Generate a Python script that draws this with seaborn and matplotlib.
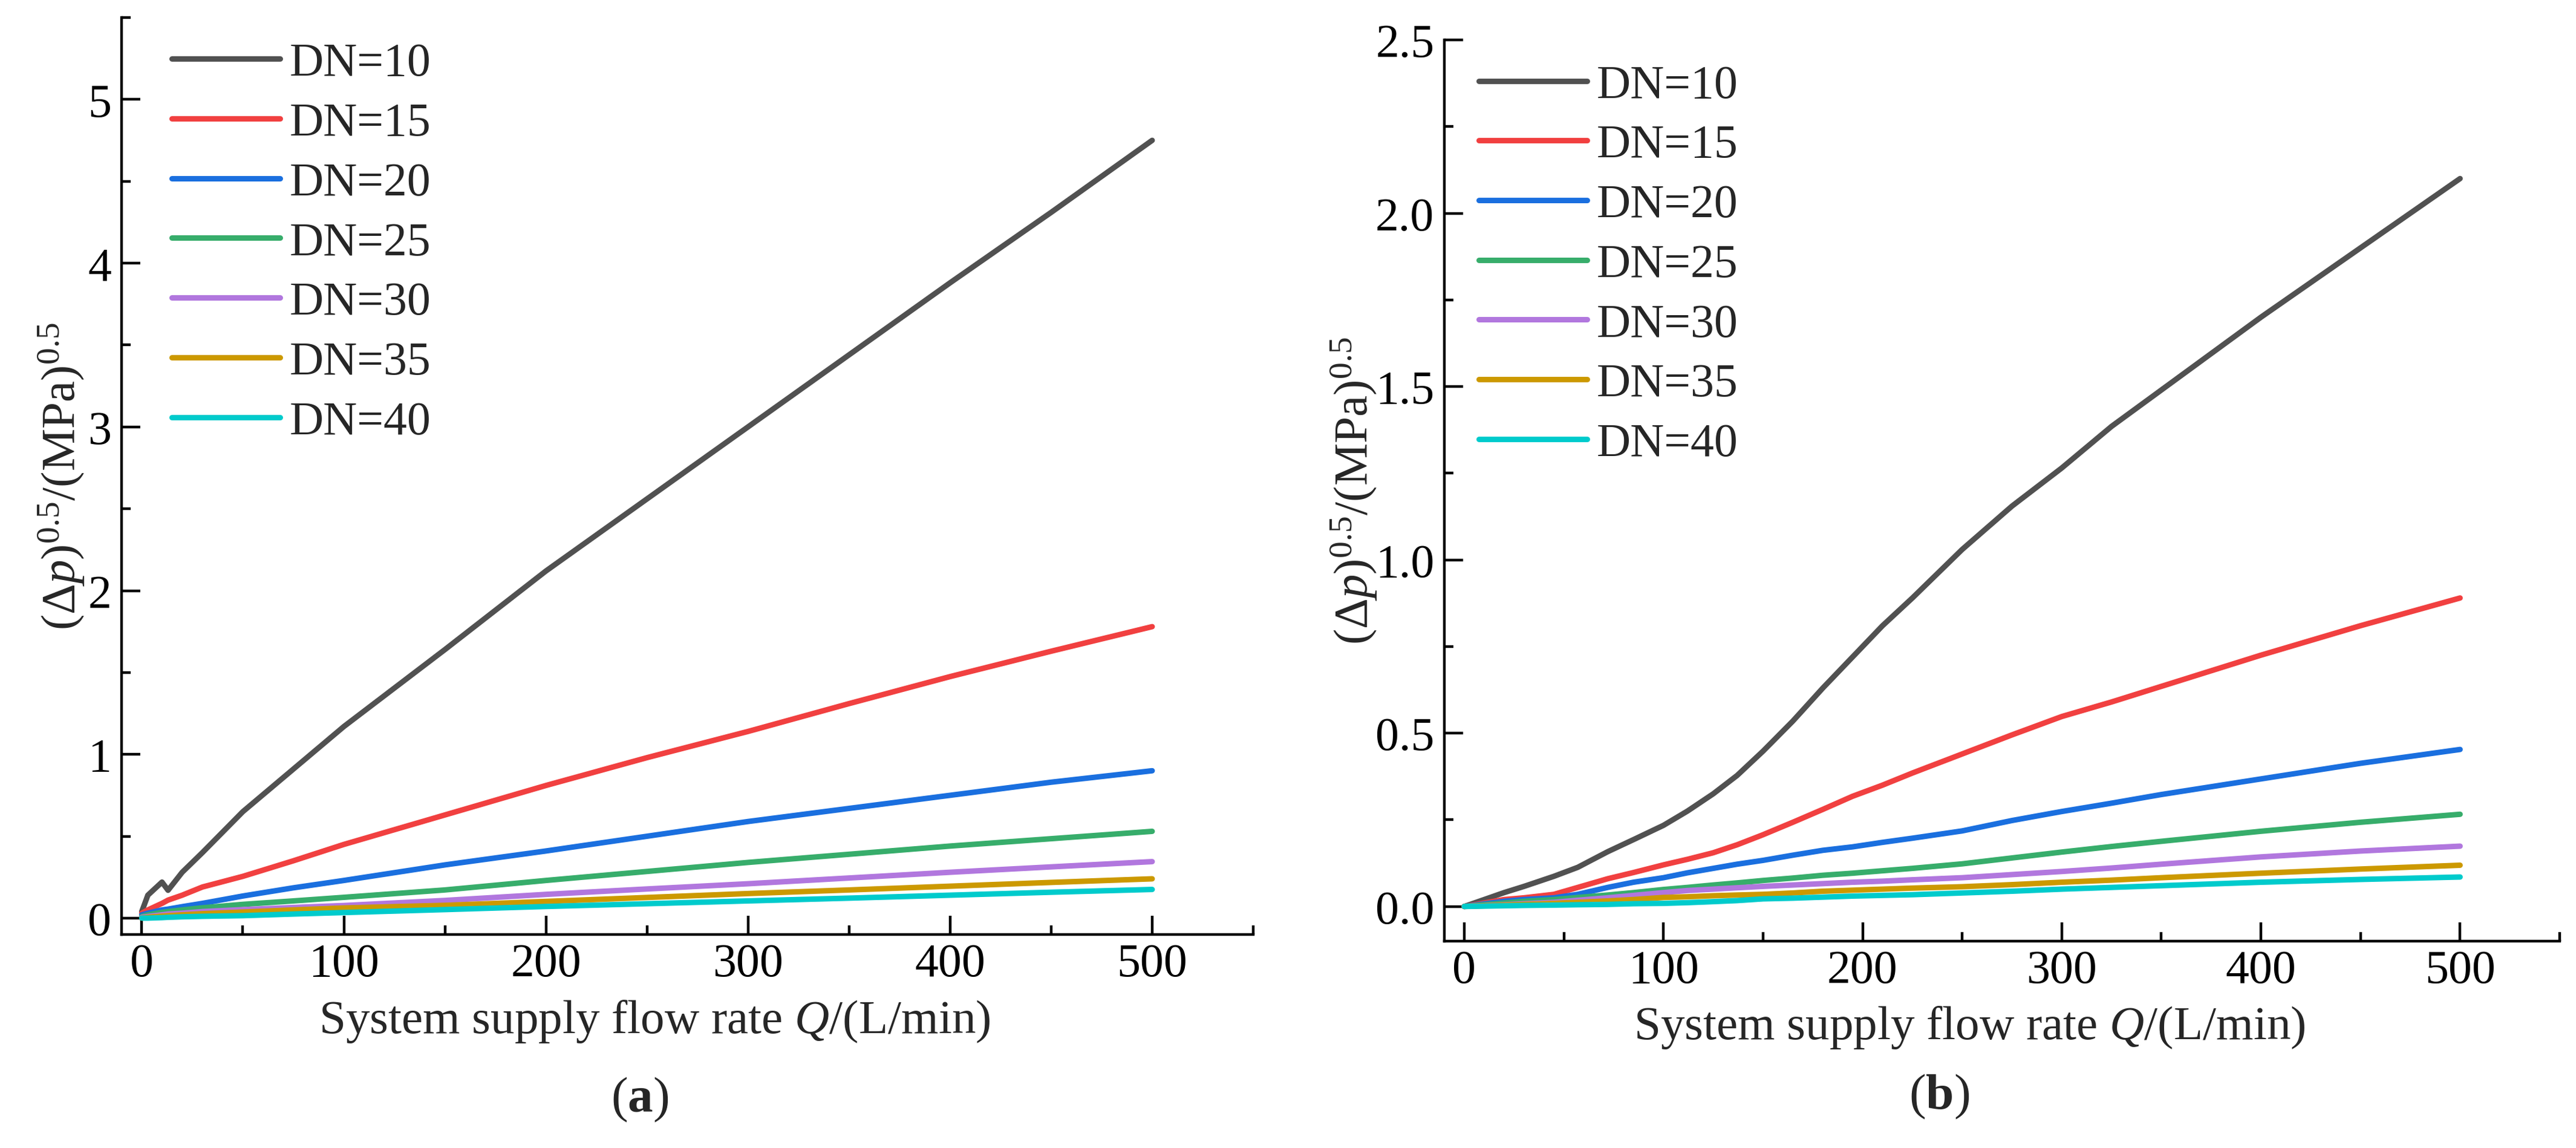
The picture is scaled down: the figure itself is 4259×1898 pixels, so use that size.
import numpy as np
import pandas as pd
import matplotlib
matplotlib.use("Agg")
import matplotlib.pyplot as plt
from matplotlib.ticker import MultipleLocator, FormatStrFormatter
import seaborn as sns

# ---------------- data ----------------
series_names = ["DN=10", "DN=15", "DN=20", "DN=25", "DN=30", "DN=35", "DN=40"]
colors = ["#515151", "#F14040", "#1A6FDF", "#37AD6B", "#B177DE", "#CC9900", "#00CBCC"]

# panel (a)
q_a = [0, 3, 10, 13, 20, 30, 50, 75, 100, 150, 200, 250, 300, 350, 400, 450, 500]
a_dn10 = [0.04, 0.14, 0.22, 0.17, 0.28, 0.40, 0.65, 0.91, 1.17, 1.64, 2.12, 2.56, 3.00, 3.44, 3.88, 4.31, 4.75]
a_dn15 = [0.03, 0.05, 0.09, 0.11, 0.14, 0.19, 0.255, 0.35, 0.45, 0.63, 0.81, 0.98, 1.14, 1.31, 1.475, 1.63, 1.78]
a_dn20 = [0.02, 0.03, 0.05, 0.055, 0.07, 0.09, 0.135, 0.185, 0.23, 0.325, 0.41, 0.50, 0.59, 0.67, 0.75, 0.83, 0.90]
a_dn25 = [0.01, 0.02, 0.035, 0.04, 0.05, 0.063, 0.084, 0.105, 0.127, 0.172, 0.23, 0.285, 0.34, 0.39, 0.44, 0.485, 0.53]
a_dn30 = [0.005, 0.01, 0.02, 0.025, 0.03, 0.04, 0.052, 0.065, 0.077, 0.108, 0.145, 0.178, 0.21, 0.245, 0.28, 0.313, 0.345]
a_dn35 = [0.0, 0.005, 0.012, 0.015, 0.02, 0.027, 0.037, 0.05, 0.062, 0.078, 0.102, 0.126, 0.15, 0.172, 0.195, 0.218, 0.24]
a_dn40 = [0.0, 0.0, 0.003, 0.005, 0.008, 0.011, 0.015, 0.025, 0.034, 0.052, 0.071, 0.088, 0.105, 0.122, 0.14, 0.158, 0.175]

# panel (b)
q_b = [0, 20, 30, 45, 57, 72, 85, 100, 112, 125, 137, 150, 165, 180, 195, 210, 225, 250, 275, 300, 325, 350, 400, 450, 500]
b_dn10 = [0, 0.04, 0.058, 0.087, 0.113, 0.158, 0.193, 0.234, 0.275, 0.325, 0.378, 0.448, 0.535, 0.63, 0.72, 0.81, 0.89, 1.03, 1.155, 1.265, 1.385, 1.49, 1.70, 1.90, 2.10]
b_dn15 = [0, 0.02, 0.025, 0.035, 0.055, 0.08, 0.098, 0.12, 0.136, 0.155, 0.178, 0.207, 0.243, 0.28, 0.318, 0.35, 0.385, 0.44, 0.495, 0.548, 0.59, 0.635, 0.725, 0.81, 0.89]
b_dn20 = [0, 0.015, 0.02, 0.025, 0.035, 0.055, 0.07, 0.083, 0.097, 0.11, 0.122, 0.133, 0.148, 0.162, 0.172, 0.185, 0.197, 0.218, 0.248, 0.274, 0.298, 0.323, 0.368, 0.413, 0.453]
b_dn25 = [0, 0.01, 0.015, 0.02, 0.026, 0.033, 0.04, 0.049, 0.055, 0.062, 0.068, 0.075, 0.082, 0.09, 0.096, 0.103, 0.11, 0.123, 0.14, 0.157, 0.173, 0.188, 0.217, 0.243, 0.266]
b_dn30 = [0, 0.005, 0.008, 0.012, 0.018, 0.025, 0.032, 0.04, 0.046, 0.05, 0.054, 0.058, 0.062, 0.066, 0.07, 0.073, 0.077, 0.083, 0.092, 0.101, 0.111, 0.122, 0.143, 0.16, 0.174]
b_dn35 = [0, 0.004, 0.006, 0.009, 0.012, 0.016, 0.02, 0.026, 0.028, 0.031, 0.033, 0.035, 0.039, 0.044, 0.047, 0.05, 0.053, 0.057, 0.063, 0.07, 0.076, 0.083, 0.096, 0.108, 0.119]
b_dn40 = [0, 0.002, 0.003, 0.004, 0.005, 0.006, 0.008, 0.009, 0.011, 0.014, 0.017, 0.022, 0.024, 0.027, 0.03, 0.032, 0.034, 0.039, 0.044, 0.05, 0.055, 0.06, 0.07, 0.078, 0.085]

x_label = "System supply flow rate $\\mathit{Q}$/(L/min)"
y_label = "$(\\Delta\\mathit{p})^{0.5}$/(MPa)$^{0.5}$"
panel_tags = ["($\\mathbf{a}$)", "($\\mathbf{b}$)"]

# ---------------- style ----------------
sns.set_theme(style="ticks")
plt.rcParams["font.family"] = ["Liberation Serif", "DejaVu Serif"]
plt.rcParams["mathtext.fontset"] = "custom"
plt.rcParams["mathtext.rm"] = "Liberation Serif"
plt.rcParams["mathtext.it"] = "Liberation Serif:italic"
plt.rcParams["mathtext.bf"] = "Liberation Serif:bold"

FS_TICK = 56
FS_LAB = 57
LW = 6.5


def long_df(q, arrays):
    rows = []
    for name, vals in zip(series_names, arrays):
        for qq, vv in zip(q, vals):
            rows.append((qq, vv, name))
    return pd.DataFrame(rows, columns=["Q", "v", "DN"])


df_a = long_df(q_a, [a_dn10, a_dn15, a_dn20, a_dn25, a_dn30, a_dn35, a_dn40])
df_b = long_df(q_b, [b_dn10, b_dn15, b_dn20, b_dn25, b_dn30, b_dn35, b_dn40])

W, H = 4259, 1899
fig = plt.figure(figsize=(W / 100, H / 100), dpi=100)


def px_axes(l, t, r, b):
    return fig.add_axes([l / W, 1 - b / H, (r - l) / W, (b - t) / H])


ax_a = px_axes(201, 30, 2072, 1546)
ax_b = px_axes(2388, 67, 4232, 1557)

cfg = [
    (ax_a, df_a, (-0.1, 5.5), 1, 0.5, "%d", 0.0444, -0.0529, 0.0943),
    (ax_b, df_b, (-0.1, 2.5), 0.5, 0.25, "%.1f", 0.0309, -0.081, 0.0953),
]

for ax, df, ylim, ymaj, ymin, fmt, leg_x, ylab_x, xlab_y in cfg:
    sns.lineplot(data=df, x="Q", y="v", hue="DN", hue_order=series_names,
                 palette=colors, linewidth=LW, ax=ax, estimator=None,
                 sort=False, legend=True)
    ax.set_xlim(-10, 550)
    ax.set_ylim(*ylim)
    ax.xaxis.set_major_locator(MultipleLocator(100))
    ax.xaxis.set_minor_locator(MultipleLocator(50))
    ax.yaxis.set_major_locator(MultipleLocator(ymaj))
    ax.yaxis.set_minor_locator(MultipleLocator(ymin))
    ax.yaxis.set_major_formatter(FormatStrFormatter(fmt))
    for s in ["top", "right"]:
        ax.spines[s].set_visible(False)
    for s in ["left", "bottom"]:
        ax.spines[s].set_linewidth(3.2)
        ax.spines[s].set_color("black")
    ax.tick_params(which="major", direction="in", length=22, width=3.2,
                   labelsize=FS_TICK, colors="black")
    ax.tick_params(which="minor", direction="in", length=11, width=3.2,
                   colors="black")
    ax.tick_params(axis="x", which="major", pad=10)
    ax.tick_params(axis="y", which="major", pad=12)
    ax.set_xlabel(x_label, fontsize=FS_LAB, va="center")
    ax.set_ylabel(y_label, fontsize=FS_LAB, va="center")
    ax.xaxis.set_label_coords(0.471, -xlab_y)
    ax.yaxis.set_label_coords(ylab_x, 0.5)
    ax.set_facecolor("white")

    old = ax.get_legend()
    handles = old.legend_handles
    labels = [t.get_text() for t in old.texts]
    old.remove()
    leg = ax.legend(handles, labels, loc="upper left", bbox_to_anchor=(leg_x, 0.973),
                    frameon=False, borderpad=0, borderaxespad=0, handlelength=2.3,
                    handletextpad=0.2, labelspacing=0.35, fontsize=FS_TICK)
    for h in leg.legend_handles:
        h.set_linewidth(LW)
        h.set_solid_capstyle("round")

fig.text(1058 / W, 1 - 1818 / H, panel_tags[0], fontsize=60, ha="center", va="center")
fig.text(3206 / W, 1 - 1813 / H, panel_tags[1], fontsize=60, ha="center", va="center")

fig.savefig("out.png", dpi=100, facecolor="white")
